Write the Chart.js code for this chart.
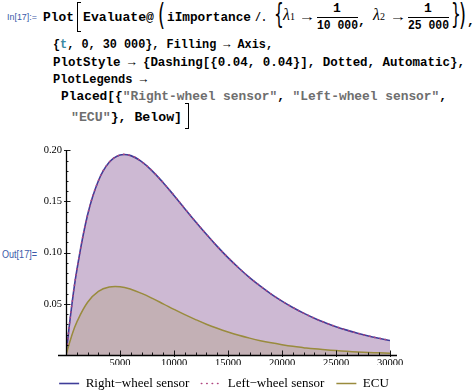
<!DOCTYPE html>
<html>
<head>
<meta charset="utf-8">
<script src="https://cdn.jsdelivr.net/npm/chart.js@4.4.1/dist/chart.umd.min.js"></script>
<style>
  html, body { margin:0; padding:0; background:#fff; width:474px; height:391px; overflow:hidden; }
  .t { position:absolute; white-space:pre; font-family:"Liberation Mono","DejaVu Sans Mono",monospace; font-weight:bold; font-size:13px; line-height:13px; color:#000; transform-origin:0 0; }
  .lbl { position:absolute; white-space:pre; font-family:"Liberation Sans",Arial,sans-serif; font-size:9px; line-height:9px; color:#3b5aa9; transform-origin:0 0; }
  .str { color:#6e6e6e; }
  .var { color:#3b8aa3; }
  .lam { font-family:"Liberation Serif",serif; font-style:italic; font-weight:normal; font-size:16px; }
  .sub { font-family:"Liberation Serif",serif; font-weight:normal; font-size:10px; }
  .br { position:absolute; border:1.4px solid #000; }
  .bar { position:absolute; height:0; border-top:1.2px solid #000; }
  .big { position:absolute; font-family:"DejaVu Sans",sans-serif; font-weight:normal; color:#000; transform-origin:0 0; line-height:1; }
  #c { position:absolute; left:0; top:140px; }
</style>
</head>
<body>
<!-- In / Out labels -->
<div class="lbl" style="left:7px;top:13px" data-w="30">In[17]:=</div>
<div class="lbl" style="left:2px;top:250px;font-size:10px;line-height:10px" data-w="35">Out[17]=</div>

<!-- line 1 -->
<div class="t" style="left:43px;top:11px" data-w="31">Plot</div>
<div class="br" style="left:77px;top:2px;width:3px;height:28px;border-right:none"></div>
<div class="t" style="left:83px;top:11px" data-w="71">Evaluate@</div>
<div class="big" style="left:158px;top:0px;font-size:30px;transform:scaleX(0.6)">(</div>
<div class="t" style="left:167px;top:11px" data-w="84">iImportance</div>
<div class="t" style="left:255px;top:11px" data-w="12">/.</div>
<div class="big" style="left:274px;top:1px;font-size:28px;transform:scaleX(0.55)">{</div>
<div class="t" style="left:283px;top:8px"><span class="lam">λ</span><span class="sub">1</span></div>
<div class="t" style="left:302px;top:11px;font-weight:normal" data-w="10">→</div>
<div class="t" style="left:333px;top:2px">1</div>
<div class="bar" style="left:317px;top:17px;width:41px"></div>
<div class="t" style="left:317px;top:19px" data-w="41">10 000</div>
<div class="t" style="left:358px;top:15px">,</div>
<div class="t" style="left:373px;top:8px"><span class="lam">λ</span><span class="sub">2</span></div>
<div class="t" style="left:393px;top:11px;font-weight:normal" data-w="10">→</div>
<div class="t" style="left:424px;top:2px">1</div>
<div class="bar" style="left:408px;top:17px;width:41px"></div>
<div class="t" style="left:408px;top:19px" data-w="41">25 000</div>
<div class="big" style="left:451px;top:1px;font-size:28px;transform:scaleX(0.55)">}</div>
<div class="big" style="left:459px;top:0px;font-size:30px;transform:scaleX(0.6)">)</div>
<div class="t" style="left:467px;top:15px">,</div>

<!-- line 2..6 -->
<div class="t" style="left:53px;top:38px" data-w="220">{<span class="var">t</span>, 0, 30 000}, Filling → Axis,</div>
<div class="t" style="left:53px;top:56px" data-w="412">PlotStyle → {Dashing[{0.04, 0.04}], Dotted, Automatic},</div>
<div class="t" style="left:53px;top:73px" data-w="94">PlotLegends →</div>
<div class="t" style="left:61px;top:90px" data-w="386">Placed[{<span class="str">"Right-wheel sensor"</span>, <span class="str">"Left-wheel sensor"</span>,</div>
<div class="t" style="left:71px;top:111px" data-w="111"><span class="str">"ECU"</span>}, Below]</div>
<div class="br" style="left:185px;top:103px;width:3px;height:24px;border-left:none"></div>

<canvas id="c" width="448" height="260"></canvas>

<script>
// ---- data ----
const times       = [0, 500, 1000, 2000, 3000, 4000, 5000, 6000, 7000, 8000, 9000, 10000,
                     11000, 12000, 13000, 14000, 15000, 16000, 17000, 18000, 19000, 20000,
                     21000, 22000, 23000, 24000, 25000, 26000, 27000, 28000, 29000, 30000];
const rightWheel  = [0, 0.0455, 0.0827, 0.1370, 0.1703, 0.1883, 0.1954, 0.1948, 0.1889, 0.1797, 0.1683, 0.1559,
                     0.1430, 0.1302, 0.1179, 0.1061, 0.0951, 0.0850, 0.0756, 0.0672, 0.0595, 0.0526,
                     0.0464, 0.0409, 0.0359, 0.0316, 0.0277, 0.0243, 0.0213, 0.0186, 0.0163, 0.0142];
const leftWheel   = [0, 0.0455, 0.0827, 0.1370, 0.1703, 0.1883, 0.1954, 0.1948, 0.1889, 0.1797, 0.1683, 0.1559,
                     0.1430, 0.1302, 0.1179, 0.1061, 0.0951, 0.0850, 0.0756, 0.0672, 0.0595, 0.0526,
                     0.0464, 0.0409, 0.0359, 0.0316, 0.0277, 0.0243, 0.0213, 0.0186, 0.0163, 0.0142];
const ecu         = [0, 0.0179, 0.0321, 0.0515, 0.0621, 0.0664, 0.0667, 0.0643, 0.0602, 0.0553, 0.0500, 0.0446,
                     0.0394, 0.0346, 0.0301, 0.0261, 0.0225, 0.0193, 0.0165, 0.0140, 0.0119, 0.0101,
                     0.0085, 0.0072, 0.0060, 0.0051, 0.0043, 0.0036, 0.0030, 0.0025, 0.0021, 0.0017];
const seriesNames = ["Right\u2212wheel sensor", "Left\u2212wheel sensor", "ECU"];
const xTickValues = [5000, 10000, 15000, 20000, 25000, 30000];
const yTickValues = [0.05, 0.10, 0.15, 0.20];
const xMinorStep  = 1000;
const yMinorStep  = 0.01;

// fit text widths
document.querySelectorAll('[data-w]').forEach(el => {
  const w = el.getBoundingClientRect().width;
  const target = parseFloat(el.dataset.w);
  if (w > 0) el.style.transform = 'scaleX(' + (target / w) + ')';
});

const pts = arr => times.map((t, i) => ({x: t, y: arr[i]}));

const axesPlugin = {
  id: 'mmaAxes',
  afterDatasetsDraw(chart) {
    const {ctx, scales: {x, y}} = chart;
    const x0 = x.getPixelForValue(0), y0 = y.getPixelForValue(0);
    ctx.save();
    ctx.strokeStyle = '#000';
    ctx.lineCap = 'butt';
    ctx.lineWidth = 0.9;
    ctx.beginPath();
    for (let v = xMinorStep; v <= x.max + 1; v += xMinorStep) {
      const px = Math.round(x.getPixelForValue(v)) + 0.5;
      const major = xTickValues.includes(v);
      ctx.moveTo(px, y0 + (major ? 2 : 0));
      ctx.lineTo(px, y0 - (major ? 4.5 : 2.5));
    }
    for (let k = 1; k * yMinorStep <= y.max + 1e-9; k++) {
      const v = +(k * yMinorStep).toFixed(2);
      const py = Math.round(y.getPixelForValue(v)) + 0.5;
      const major = yTickValues.some(t => Math.abs(t - v) < 1e-9);
      ctx.moveTo(x0 - (major ? 2 : 0), py);
      ctx.lineTo(x0 + (major ? 4.5 : 2.5), py);
    }
    ctx.stroke();
    ctx.lineWidth = 1.3;
    ctx.beginPath();
    ctx.moveTo(x0 - 8, y0 + 0.5);
    ctx.lineTo(x.right + 7, y0 + 0.5);
    ctx.moveTo(x0 + 0.5, y0);
    ctx.lineTo(x0 + 0.5, y.getPixelForValue(y.max));
    ctx.stroke();
    ctx.restore();
  }
};

const tickFont = {family: '"Liberation Serif", "Times New Roman", serif', size: 10.5};

new Chart(document.getElementById('c'), {
  type: 'line',
  data: {
    datasets: [
      { label: seriesNames[0], data: pts(rightWheel), order: 3,
        borderColor: '#3f3d99', backgroundColor: 'rgba(63,61,153,0.2)', borderWidth: 1.6,
        fill: 'origin', pointRadius: 0, tension: 0.4 },
      { label: seriesNames[1], data: pts(leftWheel), order: 2,
        borderColor: '#b0457f', backgroundColor: 'rgba(153,61,113,0.2)', borderWidth: 1.6,
        borderDash: [0.4, 5], borderCapStyle: 'round',
        fill: 'origin', pointRadius: 0, tension: 0.4 },
      { label: seriesNames[2], data: pts(ecu), order: 1,
        borderColor: '#998b3d', backgroundColor: 'rgba(153,139,61,0.2)', borderWidth: 1.5,
        fill: 'origin', pointRadius: 0, tension: 0.4 }
    ]
  },
  options: {
    responsive: false,
    animation: false,
    devicePixelRatio: 1,
    layout: { padding: { top: 9, right: 0, left: 0, bottom: 0 } },
    plugins: {
      filler: { drawTime: 'beforeDatasetsDraw' },
      tooltip: { enabled: false },
      legend: {
        position: 'bottom',
        labels: {
          usePointStyle: true, pointStyleWidth: 20, padding: 12, color: '#000',
          font: {family: '"Liberation Serif", "Times New Roman", serif', size: 13},
          sort: (a, b) => a.datasetIndex - b.datasetIndex,
          generateLabels: chart => {
            const items = Chart.defaults.plugins.legend.labels.generateLabels(chart);
            items.forEach(it => {
              const ds = chart.data.datasets[it.datasetIndex];
              it.pointStyle = 'line';
              it.strokeStyle = ds.borderColor;
              it.lineWidth = ds.borderWidth;
              it.lineDash = ds.borderDash || [];
              it.lineCap = ds.borderCapStyle || 'butt';
            });
            return items;
          }
        }
      }
    },
    scales: {
      x: {
        type: 'linear', min: 0, max: 30000,
        grid: { display: false, drawTicks: false }, border: { display: false },
        afterBuildTicks: s => { s.ticks = xTickValues.map(v => ({value: v})); },
        afterFit: s => { s.height = 10; },
        ticks: { padding: 2, color: '#000', font: tickFont, maxRotation: 0, autoSkip: false,
                 callback: v => String(v) }
      },
      y: {
        type: 'linear', min: 0, max: 0.2, position: 'left',
        grid: { display: false, drawTicks: false }, border: { display: false },
        afterBuildTicks: s => { s.ticks = yTickValues.map(v => ({value: v})); },
        afterFit: s => { s.width = 66; },
        ticks: { padding: 4, color: '#000', font: tickFont, autoSkip: false,
                 callback: v => Number(v).toFixed(2) }
      },
      pad: {
        type: 'linear', position: 'right', display: true,
        grid: { display: false, drawTicks: false }, border: { display: false },
        ticks: { display: false },
        afterFit: s => { s.width = 58; }
      }
    }
  },
  plugins: [axesPlugin]
});
</script>
</body>
</html>
